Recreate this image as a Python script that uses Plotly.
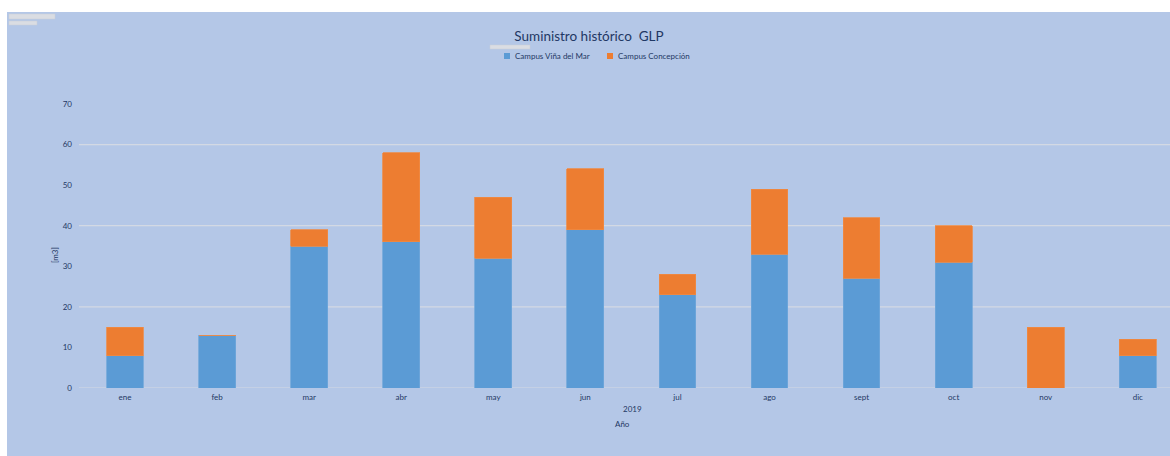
import plotly.graph_objects as go

# Monthly LPG supply (m3), 2019, stacked by campus
meses = ["ene", "feb", "mar", "abr", "may", "jun", "jul", "ago", "sept", "oct", "nov", "dic"]
vina_del_mar = [8, 13, 35, 36, 32, 39, 23, 33, 27, 31, 0, 8]
concepcion = [7, 0, 4, 22, 15, 15, 5, 16, 15, 9, 15, 4]
y_ticks = [0, 10, 20, 30, 40, 50, 60, 70]
grid_vals = [0, 20, 40, 60]

BG = "#B4C7E7"
NAVY = "#1F3864"
BLUE = "#5B9BD5"
ORANGE = "#ED7D31"
FONT = "Lato"

# pixel -> paper helpers (plot area spans x 79..1170, y 104..388)
def px(x):
    return (x - 79) / 1091

def py(y):
    return (388 - y) / 284

fig = go.Figure()
fig.add_trace(go.Bar(
    x=meses, y=vina_del_mar, name="Campus Viña del Mar",
    marker=dict(color=BLUE, line=dict(color="#6FA6DA", width=0.8)),
    width=0.4, showlegend=False,
))
fig.add_trace(go.Bar(
    x=meses, y=concepcion, name="Campus Concepción",
    marker=dict(color=ORANGE, line=dict(color="#EE8A45", width=0.8)),
    width=0.4, showlegend=False,
))

shapes = []
# white strips along the top and left edges of the page
shapes.append(dict(type="rect", xref="paper", yref="paper", x0=-0.08, x1=1.05,
                   y0=py(12), y1=1.45, fillcolor="white", line=dict(width=0), layer="below"))
shapes.append(dict(type="rect", xref="paper", yref="paper", x0=-0.08, x1=px(7),
                   y0=-0.3, y1=1.45, fillcolor="white", line=dict(width=0), layer="below"))
# horizontal gridlines every 20
for g in grid_vals:
    shapes.append(dict(type="line", xref="paper", yref="y", x0=0, x1=1, y0=g, y1=g,
                       line=dict(color="#D3D9E4", width=1.2), layer="below"))
# small pivot field buttons
for (x0, x1, y0, y1) in [(9, 55, 14, 19), (9, 37, 21, 25), (490, 530, 45, 49)]:
    shapes.append(dict(type="rect", xref="paper", yref="paper",
                       x0=px(x0), x1=px(x1), y0=py(y1), y1=py(y0),
                       fillcolor="#DADDE3", line=dict(color="#C8CCD4", width=0.5)))

# legend keys
legend_items = [("Campus Viña del Mar", BLUE, 504), ("Campus Concepción", ORANGE, 607)]
annotations = []
for label, color, x0 in legend_items:
    shapes.append(dict(type="rect", xref="paper", yref="paper",
                       x0=px(x0), x1=px(x0 + 6), y0=py(59), y1=py(53),
                       fillcolor=color, line=dict(width=0)))
    annotations.append(dict(text=label, xref="paper", yref="paper", x=px(x0 + 9), y=py(56),
                            xanchor="left", yanchor="middle", showarrow=False,
                            font=dict(size=8, color=NAVY, family=FONT)))

annotations += [
    dict(text="2019", xref="paper", yref="paper", x=px(632), y=py(409),
         showarrow=False, font=dict(size=8, color=NAVY, family=FONT), yanchor="middle"),
    dict(text="Año", xref="paper", yref="paper", x=px(622), y=py(424),
         showarrow=False, font=dict(size=8, color=NAVY, family=FONT), yanchor="middle"),
    dict(text="[m3]", xref="paper", yref="paper", x=px(55), y=py(255),
         showarrow=False, textangle=-90, font=dict(size=8, color=NAVY, family=FONT),
         xanchor="center", yanchor="middle"),
]

fig.update_layout(
    width=1170, height=456,
    barmode="stack",
    paper_bgcolor=BG, plot_bgcolor=BG,
    margin=dict(l=79, r=0, t=104, b=68),
    font=dict(family=FONT, color=NAVY, size=8),
    title=dict(text="Suministro histórico  GLP", x=589 / 1170, xanchor="center",
               y=1 - 36 / 456, yanchor="middle",
               font=dict(size=13.5, color=NAVY, family=FONT)),
    xaxis=dict(range=[-0.5, 11.35], showgrid=False, showline=False, zeroline=False,
               ticks="", ticklabelstandoff=3, tickfont=dict(size=8, color=NAVY),
               fixedrange=True),
    yaxis=dict(range=[0, 70], tickvals=y_ticks, showgrid=False, zeroline=False,
               showline=False, ticks="", ticklabelstandoff=6,
               tickfont=dict(size=8, color=NAVY)),
    shapes=shapes,
    annotations=annotations,
    showlegend=False,
)

fig.write_html("out.html")
